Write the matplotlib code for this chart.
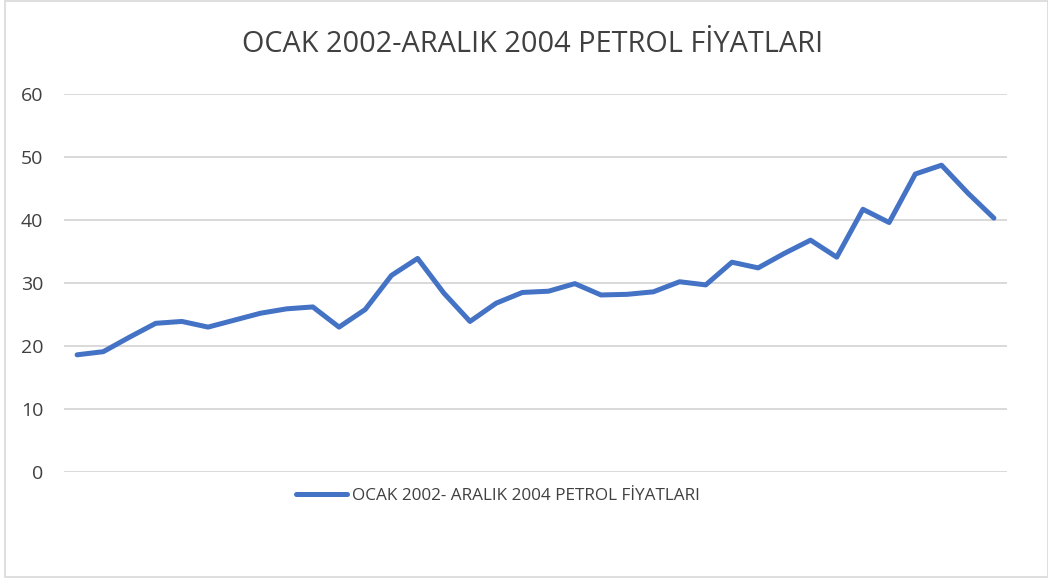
import matplotlib
matplotlib.use("Agg")
import matplotlib.pyplot as plt
from matplotlib.patches import Rectangle

# monthly prices, Jan 2002 - Dec 2004
months = list(range(36))
prices = [18.6, 19.1, 21.4, 23.6, 23.9, 23.0, 24.1, 25.2, 25.9, 26.2,
          23.0, 25.8, 31.2, 33.9, 28.4, 23.9, 26.8, 28.5, 28.7, 29.9,
          28.1, 28.2, 28.6, 30.2, 29.7, 33.3, 32.4, 34.7, 36.8, 34.1,
          41.7, 39.6, 47.3, 48.7, 44.3, 40.3]
yticks = [0, 10, 20, 30, 40, 50, 60]
title = "OCAK 2002-ARALIK 2004 PETROL FİYATLARI"
series_name = "OCAK 2002- ARALIK 2004 PETROL FİYATLARI"

plt.rcParams['font.family'] = ['Open Sans', 'DejaVu Sans']

fig = plt.figure(figsize=(10.48, 5.78), dpi=100)
ax = fig.add_axes([64 / 1048, 1 - 472 / 578, (1007 - 64) / 1048, (472 - 94) / 578])

line, = ax.plot(months, prices, color='#4472C4', lw=3.6,
                solid_joinstyle='round', solid_capstyle='round', label=series_name)

ax.set_xlim(-0.5, 35.5)
ax.set_ylim(0, 60)
ax.set_yticks(yticks)
ax.set_xticks([])
ax.yaxis.grid(True, color='#d9d9d9', lw=1.4)
ax.set_axisbelow(True)
for s in ax.spines.values():
    s.set_visible(False)
ax.tick_params(axis='y', length=0, pad=15, labelsize=14, labelcolor='#404040')

fig.text(0.508, 1 - 45 / 578, title, ha='center', va='center',
         fontsize=20.8, color='#404040')

leg = fig.legend(handles=[line], loc='center left',
                 bbox_to_anchor=(287 / 1048, 1 - 496 / 578), frameon=False,
                 handlelength=3.0, handletextpad=0.3, borderpad=0,
                 prop={'size': 12.3})
for t in leg.get_texts():
    t.set_color('#404040')

fig.patches.append(Rectangle((5 / 1048, 1 / 578), 1 - 5 / 1048, 1 - 2 / 578,
                             transform=fig.transFigure, fill=False,
                             edgecolor='#d9d9d9', lw=1.2))

fig.savefig('out.png', dpi=100)
